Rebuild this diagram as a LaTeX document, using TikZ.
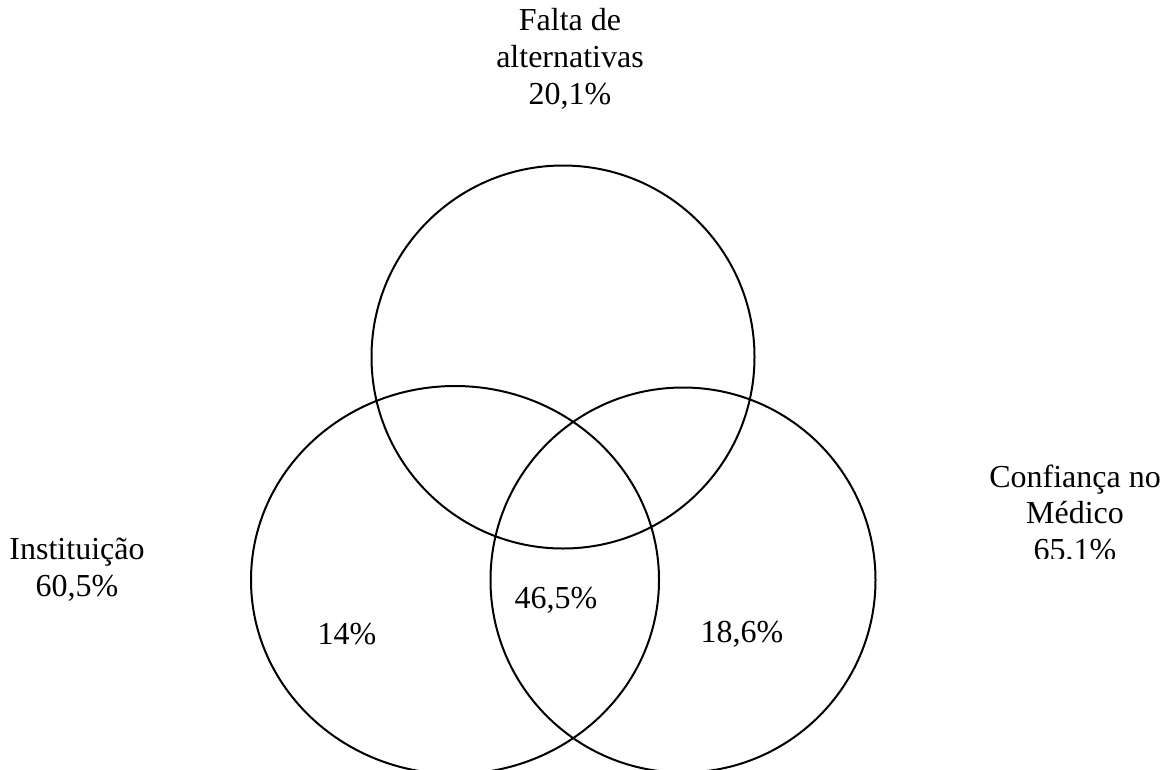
\documentclass[tikz,border=0pt]{standalone}
\usepackage{fontspec}
\setmainfont{Liberation Serif}

\begin{document}
\begin{tikzpicture}[x=0.75pt,y=-0.75pt]
    % Define styles
    \tikzset{set/.style={line width=1.5pt,black},
             lbl/.style={align=center,inner sep=0pt,font=\fontsize{24}{27.6}\selectfont}}

    \clip (0,0) rectangle (1168,769); % page frame

    % Draw the three sets
    \draw[set] (563,357) circle (191.5);
    \draw[set] (455,580) ellipse (204 and 194);
    \draw[set] (683,580) circle (192.5);

    % Set names
    \node[lbl] (falta) at (570,59) {Falta de\\alternativas\\20,1\%};
    \node[lbl] (inst) at (77,570) {Instituição\\60,5\%};
    \begin{scope}
        \clip (900,0) rectangle (1168,558); % last line is cut off
        \node[lbl] (conf) at (1075,515) {Confiança no\\Médico\\65,1\%};
    \end{scope}

    % Region values
    \node[lbl] (soInst) at (347,634) {14\%};
    \node[lbl] (meio) at (556,600) {46,5\%};
    \node[lbl] (soConf) at (742,634) {18,6\%};
\end{tikzpicture}
\end{document}
